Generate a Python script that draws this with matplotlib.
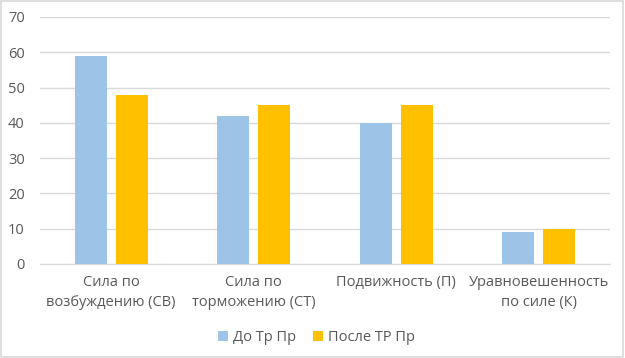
import matplotlib.pyplot as plt
import numpy as np
from matplotlib.patches import Rectangle

categories = ["Сила по\nвозбуждению (СВ)", "Сила по\nторможению (СТ)", "Подвижность (П)", "Уравновешенность\nпо силе (К)"]
before = [59, 42, 40, 9]
after = [48, 45, 45, 10]
series_names = ["До Тр Пр", "После ТР Пр"]
colors = ['#9DC3E6', '#FFC000']

plt.rcParams['font.family'] = ['Open Sans', 'DejaVu Sans']

fig = plt.figure(figsize=(6.25, 3.58), dpi=100)
ax = fig.add_axes([0.064, 0.2626, 0.912, 0.69])

x = np.arange(len(categories))
width = 0.225
gap = 0.06
ax.bar(x - (width + gap) / 2, before, width, color=colors[0], label=series_names[0], zorder=3)
ax.bar(x + (width + gap) / 2, after, width, color=colors[1], label=series_names[1], zorder=3)

ax.set_xlim(-0.5, len(categories) - 0.5)
ax.set_ylim(0, 70)
ax.set_yticks(range(0, 71, 10))
ax.yaxis.grid(True, color='#D9D9D9', linewidth=1, zorder=0)
ax.set_xticks(x)
ax.set_xticklabels(categories, fontsize=10.5, color='#595959', linespacing=1.45)
ax.tick_params(axis='y', labelsize=10.5, labelcolor='#595959', length=0, pad=11)
ax.tick_params(axis='x', length=0, pad=8)
for side in ['top', 'right', 'left']:
    ax.spines[side].set_visible(False)
ax.spines['bottom'].set_color('#D9D9D9')

ax.legend(loc='upper center', bbox_to_anchor=(0.485, -0.215), ncol=2, frameon=False,
          fontsize=10.5, labelcolor='#595959', handlelength=0.7, handleheight=0.7,
          handletextpad=0.3, columnspacing=1.2)

fig.patches.append(Rectangle((0.002, 0.003), 0.995, 0.993, transform=fig.transFigure,
                             fill=False, edgecolor='#D9D9D9', linewidth=1.2))

plt.savefig('out.png', dpi=100)
